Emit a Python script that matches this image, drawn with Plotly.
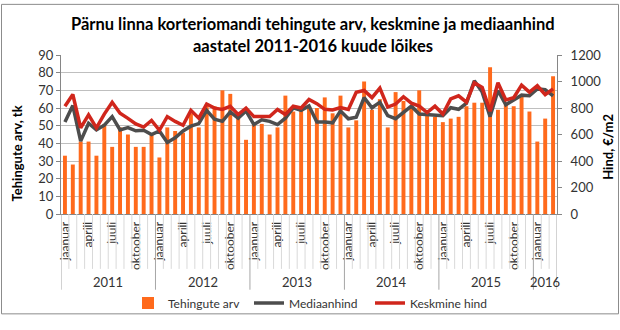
import plotly.graph_objects as go

# ---- data ----
years = ["2011", "2012", "2013", "2014", "2015", "2016"]
months_per_year = [12, 12, 12, 12, 12, 3]
month_names = ["jaanuar", "veebruar", "märts", "aprill", "mai", "juuni",
               "juuli", "august", "september", "oktoober", "november", "detsember"]
labelled_months = ["jaanuar", "aprill", "juuli", "oktoober"]

tehingute_arv = [33, 28, 41, 41, 33, 51, 38, 49, 45, 38, 38, 45,
                 32, 49, 47, 46, 57, 49, 62, 61, 70, 68, 55, 42,
                 51, 51, 45, 49, 67, 58, 60, 61, 60, 66, 57, 67,
                 49, 53, 75, 59, 65, 49, 69, 64, 60, 70, 56, 55,
                 52, 54, 55, 61, 63, 63, 83, 59, 62, 61, 67, 58,
                 41, 54, 78]
mediaanhind = [694, 818, 550, 685, 635, 670, 735, 635, 652, 628, 632, 600,
               627, 540, 575, 627, 663, 682, 782, 716, 699, 770, 723, 778,
               675, 711, 699, 675, 723, 801, 782, 816, 695, 695, 688, 778,
               719, 731, 878, 802, 844, 742, 719, 766, 814, 754, 750, 742,
               742, 802, 790, 837, 1005, 920, 735, 932, 825, 861, 897, 892,
               944, 939, 892]
keskmine_hind = [813, 902, 650, 748, 650, 754, 843, 760, 722, 680, 656, 706,
                 632, 735, 699, 670, 782, 723, 830, 799, 789, 813, 751, 799,
                 735, 735, 735, 789, 751, 813, 800, 864, 833, 790, 785, 803,
                 789, 918, 932, 878, 950, 807, 830, 885, 837, 814, 766, 814,
                 754, 868, 892, 844, 991, 956, 775, 991, 861, 878, 973, 920,
                 968, 901, 944]

left_ticks = list(range(0, 91, 10))
right_ticks = list(range(0, 1201, 200))

# ---- derived month index ----
month_labels = []
for y, n in zip(years, months_per_year):
    month_labels += month_names[:n]
x = list(range(len(month_labels)))

FONT = "Lato"
ORANGE = "#FF6A1C"
GREY = "#4D4D4D"
RED = "#D0261C"

fig = go.Figure()
fig.add_trace(go.Bar(x=x, y=tehingute_arv, name="Tehingute arv",
                     marker=dict(color=ORANGE, line=dict(width=0)), width=0.5))
fig.add_trace(go.Scatter(x=x, y=mediaanhind, name="Mediaanhind", yaxis="y2",
                         mode="lines", line=dict(color=GREY, width=3.5)))
fig.add_trace(go.Scatter(x=x, y=keskmine_hind, name="Keskmine hind", yaxis="y2",
                         mode="lines", line=dict(color=RED, width=3.5)))

L, R, T, B = 61, 63, 55, 107
W, H = 620, 330
pw, ph = W - L - R, H - T - B

tickvals = [i for i, m in enumerate(month_labels) if m in labelled_months]
ticktext = [month_labels[i] for i in tickvals]

shapes = []
year_bounds = [-0.5]
for n in months_per_year:
    year_bounds.append(year_bounds[-1] + n)
for b in [i - 0.5 for i in range(len(x) + 1)]:
    is_year = b in year_bounds
    shapes.append(dict(type="line", xref="x", yref="paper", x0=b, x1=b,
                       y0=0, y1=(-80 / ph) if is_year else (-58 / ph),
                       line=dict(color="#A6A6A6" if is_year else "#D9D9D9", width=1)))
# outer border
shapes.append(dict(type="rect", xref="paper", yref="paper",
                   x0=(1.5 - L) / pw, x1=(W - 1.5 - L) / pw,
                   y0=-(B - 1.5) / ph, y1=1 + (T - 1.5) / ph,
                   line=dict(color="#8C8C8C", width=1)))

annotations = []
for k, yname in enumerate(years):
    c = (year_bounds[k] + year_bounds[k + 1]) / 2
    annotations.append(dict(x=c, y=-72 / ph, xref="x", yref="paper", text=yname,
                            showarrow=False, font=dict(family=FONT, size=13, color="#333"),
                            xanchor="center", yanchor="middle"))
annotations.append(dict(x=(17 - L) / pw, y=(T + ph - 159) / ph, xref="paper", yref="paper",
                        text="<b>Tehingute arv, tk</b>", textangle=-90, showarrow=False,
                        xanchor="center", yanchor="middle",
                        font=dict(family=FONT, size=13, color="#000")))
annotations.append(dict(x=(608 - L) / pw, y=(T + ph - 152) / ph, xref="paper", yref="paper",
                        text="<b>Hind, €/m2</b>", textangle=-90, showarrow=False,
                        xanchor="center", yanchor="middle",
                        font=dict(family=FONT, size=13, color="#000")))
annotations.append(dict(x=(313 - L) / pw, y=(T + ph - 22) / ph, xref="paper", yref="paper",
                        text="<b>Pärnu linna korteriomandi tehingute arv, keskmine ja mediaanhind</b>",
                        showarrow=False, xanchor="center", yanchor="middle",
                        font=dict(family=FONT, size=16.5, color="#000")))
annotations.append(dict(x=(313 - L) / pw, y=(T + ph - 45) / ph, xref="paper", yref="paper",
                        text="<b>aastatel 2011-2016 kuude lõikes</b>",
                        showarrow=False, xanchor="center", yanchor="middle",
                        font=dict(family=FONT, size=16.5, color="#000")))

fig.update_layout(
    width=W, height=H, margin=dict(l=L, r=R, t=T, b=B),
    paper_bgcolor="white", plot_bgcolor="white",
    font=dict(family=FONT, size=13, color="#333"),
    showlegend=True,
    legend=dict(orientation="h", x=(128 - L) / pw, xanchor="left",
                y=-(317 - T - ph) / ph, yanchor="middle",
                font=dict(family=FONT, size=12, color="#333"),
                entrywidth=76, entrywidthmode="pixels", traceorder="normal",
                itemwidth=30, bgcolor="rgba(0,0,0,0)"),
    xaxis=dict(range=[-0.5, len(x) - 0.5], tickmode="array", tickvals=tickvals,
               ticktext=ticktext, tickangle=-90, showgrid=False, zeroline=False,
               showline=True, linecolor="#868686", ticks="outside", ticklen=2,
               tickcolor="rgba(0,0,0,0)",
               tickfont=dict(family=FONT, size=12, color="#333")),
    yaxis=dict(range=[0, 90], tickmode="array", tickvals=left_ticks,
               showgrid=True, gridcolor="#BFBFBF", gridwidth=1, zeroline=False,
               showline=True, linecolor="#868686", ticks="outside", ticklen=4,
               tickcolor="#868686", tickfont=dict(family=FONT, size=13, color="#333")),
    yaxis2=dict(range=[0, 1200], tickmode="array", tickvals=right_ticks,
                overlaying="y", side="right", showgrid=False, zeroline=False,
                showline=True, linecolor="#868686", ticks="outside", ticklen=4,
                tickcolor="#868686", ticklabelstandoff=6,
                tickfont=dict(family=FONT, size=13, color="#333")),
    shapes=shapes, annotations=annotations, bargap=0.5,
)

fig.write_html("out.html")
